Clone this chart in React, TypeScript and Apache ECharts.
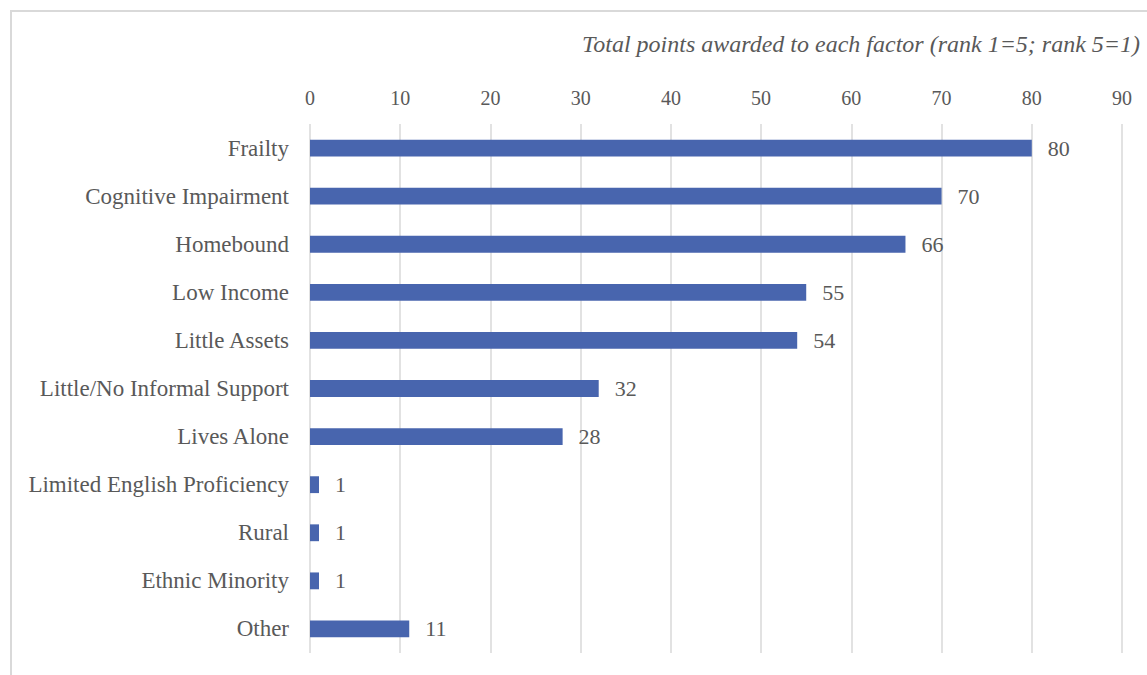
import React, { useEffect, useRef } from "react";
import * as echarts from "echarts";

const categories = [
  "Frailty",
  "Cognitive Impairment",
  "Homebound",
  "Low Income",
  "Little Assets",
  "Little/No Informal Support",
  "Lives Alone",
  "Limited English Proficiency",
  "Rural",
  "Ethnic Minority",
  "Other",
];
const points = [80, 70, 66, 55, 54, 32, 28, 1, 1, 1, 11];
const axisTitle = "Total points awarded to each factor (rank 1=5; rank 5=1)";
const xMin = 0;
const xMax = 90;
const xStep = 10;

const FONT = "'Liberation Serif', 'Times New Roman', serif";
const TEXT = "#595959";
const GRID = "#d9d9d9";
const BAR = "#4865ae";

export default function App() {
  const ref = useRef<HTMLDivElement>(null);
  useEffect(() => {
    if (!ref.current) return;
    const chart = echarts.init(ref.current, null, { renderer: "svg" });
    chart.setOption({
      animation: false,
      backgroundColor: "#ffffff",
      textStyle: { fontFamily: FONT },
      grid: { left: 310, right: 25, top: 124, bottom: 22, containLabel: false },
      graphic: [
        {
          type: "line",
          shape: { x1: 10, y1: 11, x2: 1147, y2: 11 },
          style: { stroke: GRID, lineWidth: 2 },
        },
        {
          type: "line",
          shape: { x1: 11, y1: 11, x2: 11, y2: 675 },
          style: { stroke: GRID, lineWidth: 2 },
        },
        {
          type: "text",
          right: 7,
          top: 32,
          style: {
            text: axisTitle,
            font: `italic 24px ${FONT}`,
            fill: TEXT,
          },
        },
      ],
      xAxis: {
        type: "value",
        position: "top",
        min: xMin,
        max: xMax,
        interval: xStep,
        axisLine: { show: false },
        axisTick: { show: false },
        axisLabel: { color: TEXT, fontSize: 20, fontFamily: FONT, margin: 16 },
        splitLine: { show: true, lineStyle: { color: GRID, width: 1.5 } },
      },
      yAxis: {
        type: "category",
        data: categories,
        inverse: true,
        axisLine: { show: false },
        axisTick: { show: false },
        axisLabel: { color: TEXT, fontSize: 23, fontFamily: FONT, margin: 21 },
      },
      series: [
        {
          type: "bar",
          data: points,
          barWidth: "35%",
          itemStyle: { color: BAR },
          label: {
            show: true,
            position: "right",
            distance: 16,
            color: TEXT,
            fontSize: 22,
            fontFamily: FONT,
          },
        },
      ],
    });
    return () => chart.dispose();
  }, []);
  return (
    <div
      ref={ref}
      style={{ position: "fixed", left: 0, top: 0, width: 1147, height: 675 }}
    />
  );
}
